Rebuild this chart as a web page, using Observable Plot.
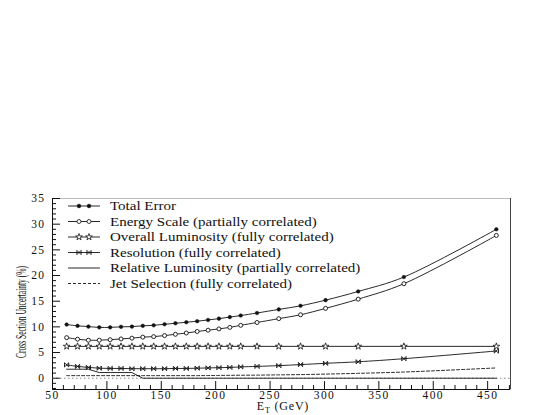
<!DOCTYPE html>
<html><head><meta charset="utf-8">
<script src="https://cdn.jsdelivr.net/npm/d3@7"></script>
<script src="https://cdn.jsdelivr.net/npm/@observablehq/plot@0.6"></script>
<style>
body{margin:0;background:#fff;}
#wrap{position:relative;width:554px;height:415px;}
#wrap svg{position:absolute;left:0;top:0;}
#wrap g[aria-label="x-axis tick label"] text, #wrap g[aria-label="y-axis tick label"] text{letter-spacing:1.4px;}
</style></head><body><div id="wrap"></div>
<script>
// ---- data ----
const et = [63,73,83,93,103,113,123,133,143,153,163,173,183,193,203,213,223,238,258,278,301,331,373,458];
const totalError = [10.45,10.2,10.05,9.9,9.9,10.0,10.05,10.2,10.3,10.5,10.7,10.9,11.1,11.35,11.6,11.9,12.2,12.7,13.4,14.1,15.2,16.9,19.7,29.0];
const energyScale = [7.9,7.6,7.4,7.4,7.5,7.65,7.8,8.0,8.1,8.3,8.55,8.8,9.1,9.35,9.6,9.9,10.3,10.85,11.6,12.35,13.6,15.4,18.4,27.8];
const overallLumi = [6.2,6.2,6.2,6.2,6.2,6.2,6.2,6.2,6.2,6.2,6.2,6.2,6.2,6.2,6.2,6.2,6.2,6.2,6.2,6.2,6.2,6.2,6.2,6.2];
const resolution = [2.6,2.3,2.1,1.95,1.9,1.9,1.85,1.85,1.85,1.85,1.9,1.9,1.95,2.0,2.05,2.1,2.2,2.3,2.45,2.65,2.9,3.2,3.8,5.3];
const relativeLumi = [1.75,1.75,1.75,1.1,1.1,1.1,1.1,0,0,0,0,0,0,0,0,0,0,0,0,0,0,0,0,0];
const jetSelection = [0.5,0.5,0.5,0.5,0.5,0.5,0.5,0.5,0.5,0.5,0.5,0.5,0.5,0.52,0.54,0.56,0.58,0.6,0.65,0.7,0.8,0.95,1.2,2.0];
const legendLabels = ["Total Error","Energy Scale (partially correlated)","Overall Luminosity (fully correlated)","Resolution (fully correlated)","Relative Luminosity (partially correlated)","Jet Selection (fully correlated)"];
const xDomain = [50, 471];
const yDomain = [-2.2, 35];
const xMajor = [50,100,150,200,250,300,350,400,450];
const xMinor = d3.range(60, 471, 10).filter(v => v % 50);
const yMajor = [0,5,10,15,20,25,30,35];
const yMinor = d3.range(-2, 35, 1).filter(v => v % 5);

const bowtie = {draw(ctx, size){ const r = Math.sqrt(size)/2;
  ctx.moveTo(-r,-r); ctx.lineTo(r,r); ctx.moveTo(-r,r); ctx.lineTo(r,-r);
  ctx.moveTo(-r,-r); ctx.lineTo(-r,r); ctx.moveTo(r,-r); ctx.lineTo(r,r); }};

const ink = "#111";
const pts = arr => arr.map((y,i) => ({x: et[i], y}));
const smooth = "catmull-rom";
const serif = "'Liberation Serif', 'Times New Roman', serif";

const plot = Plot.plot({
  width: 554, height: 415,
  marginLeft: 52, marginRight: 44, marginTop: 198, marginBottom: 26,
  style: {fontFamily: serif, fontSize: "11.5px", background: "white", color: ink},
  x: {domain: xDomain, label: null},
  y: {domain: yDomain, label: null},
  marks: [
    Plot.frame({stroke: "#bbb"}),
    Plot.ruleX([xDomain[1]], {stroke: "#444"}),
    Plot.ruleX([xDomain[0]], {stroke: ink}),
    Plot.ruleY([yDomain[0]], {stroke: ink}),
    Plot.ruleY([0], {stroke: "#888", strokeDasharray: "1.5,2.5"}),
    Plot.axisX({ticks: xMajor, tickSize: -8, fill: "none", label: null}),
    Plot.axisX({ticks: xMinor, tickSize: -4, fill: "none", label: null}),
    Plot.axisX({ticks: xMajor, tickSize: 0, tickPadding: 1, label: null, tickFormat: d => String(d)}),
    Plot.axisY({ticks: yMajor, tickSize: -8, fill: "none", label: null}),
    Plot.axisY({ticks: yMinor, tickSize: -4, fill: "none", label: null}),
    Plot.axisY({ticks: yMajor, tickSize: 0, tickPadding: 7, label: null, tickFormat: d => String(d)}),
    Plot.line(pts(jetSelection), {x: "x", y: "y", stroke: ink, strokeWidth: 0.9, strokeDasharray: "3,2", curve: smooth}),
    Plot.line(pts(relativeLumi), {x: "x", y: "y", stroke: ink, strokeWidth: 0.9}),
    Plot.line(pts(resolution), {x: "x", y: "y", stroke: ink, strokeWidth: 0.9, curve: smooth}),
    Plot.dot(pts(resolution), {x: "x", y: "y", symbol: bowtie, r: 2.4, stroke: ink, strokeWidth: 0.9, fill: "none"}),
    Plot.line(pts(overallLumi), {x: "x", y: "y", stroke: ink, strokeWidth: 0.9}),
    Plot.dot(pts(overallLumi), {x: "x", y: "y", symbol: "star", r: 2.1, stroke: ink, strokeWidth: 0.8, fill: "white"}),
    Plot.line(pts(energyScale), {x: "x", y: "y", stroke: ink, strokeWidth: 0.9, curve: smooth}),
    Plot.dot(pts(energyScale), {x: "x", y: "y", r: 2, stroke: ink, strokeWidth: 0.9, fill: "white"}),
    Plot.line(pts(totalError), {x: "x", y: "y", stroke: ink, strokeWidth: 0.9, curve: smooth}),
    Plot.dot(pts(totalError), {x: "x", y: "y", r: 1.8, fill: ink, stroke: ink, strokeWidth: 0.5})
  ]
});
const wrap = document.getElementById("wrap");
wrap.appendChild(plot);

// ---- overlay: legend and axis titles ----
const ov = d3.select(wrap).append("svg").attr("width", 554).attr("height", 415)
  .style("pointer-events", "none")
  .attr("font-family", serif).attr("fill", ink);

const legendSymbols = [
  {sym: d3.symbolCircle, size: Math.PI*1.8*1.8, fill: ink, dash: null},
  {sym: d3.symbolCircle, size: Math.PI*2*2, fill: "white", dash: null},
  {sym: d3.symbolStar, size: Math.PI*2.1*2.1, fill: "white", dash: null},
  {sym: bowtie, size: Math.PI*2.4*2.4, fill: "none", dash: null},
  {sym: null, dash: null},
  {sym: null, dash: "3,2"}
];
legendLabels.forEach((lab, i) => {
  const y = 206 + i * 15.5;
  const s = legendSymbols[i];
  ov.append("line").attr("x1", 68).attr("x2", 100).attr("y1", y).attr("y2", y)
    .attr("stroke", ink).attr("stroke-width", 0.9).attr("stroke-dasharray", s.dash);
  if (s.sym) {
    [79, 89].forEach(cx => ov.append("path").attr("d", d3.symbol(s.sym, s.size)())
      .attr("transform", `translate(${cx},${y})`).attr("fill", s.fill).attr("stroke", ink).attr("stroke-width", 0.8));
  }
  const t = ov.append("text").attr("x", 110).attr("y", y).attr("dy", "0.35em")
    .attr("font-size", 12).text(lab);
  const len = t.node().getComputedTextLength();
  t.attr("textLength", len * 1.25).attr("lengthAdjust", "spacingAndGlyphs");
});

const xl = ov.append("text").attr("x", 283).attr("y", 410).attr("text-anchor", "middle").attr("font-size", 12).attr("letter-spacing", 0.8);
xl.append("tspan").text("E");
xl.append("tspan").attr("font-size", 8).attr("dy", 3).text("T");
xl.append("tspan").attr("dy", -3).text(" (GeV)");

ov.append("text").attr("transform", "translate(26,312) rotate(-90)")
  .attr("text-anchor", "middle").attr("font-size", 14)
  .attr("textLength", 92).attr("lengthAdjust", "spacingAndGlyphs")
  .text("Cross Section Uncertainty (%)");
</script></body></html>
